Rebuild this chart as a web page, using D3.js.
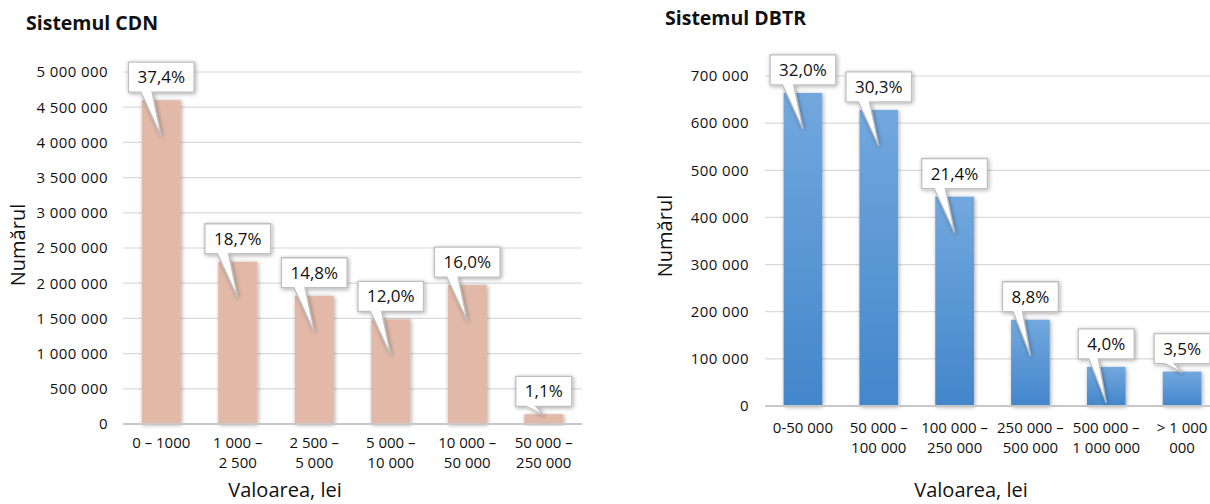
<!DOCTYPE html>
<html>
<head>
<meta charset="utf-8">
<script src="https://cdn.jsdelivr.net/npm/d3@7"></script>
<style>
  body { margin: 0; background: #fff; }
  svg { display: block; font-family: "Open Sans", sans-serif; }
</style>
</head>
<body>
<svg id="chart" width="1210" height="504"></svg>
<script>
// Sistemul CDN
const cdnCategories = [["0 – 1000"], ["1 000 –", "2 500"], ["2 500 –", "5 000"], ["5 000 –", "10 000"], ["10 000 –", "50 000"], ["50 000 –", "250 000"]];
const cdnValues = [4600000, 2305000, 1822000, 1487000, 1974000, 138000];
const cdnShares = ["37,4%", "18,7%", "14,8%", "12,0%", "16,0%", "1,1%"];
const cdnTicks = [0, 500000, 1000000, 1500000, 2000000, 2500000, 3000000, 3500000, 4000000, 4500000, 5000000];

// Sistemul DBTR
const dbtrCategories = [["0-50 000"], ["50 000 –", "100 000"], ["100 000 –", "250 000"], ["250 000 –", "500 000"], ["500 000 –", "1 000 000"], ["> 1 000", "000"]];
const dbtrValues = [664000, 628000, 444000, 183000, 83000, 73000];
const dbtrShares = ["32,0%", "30,3%", "21,4%", "8,8%", "4,0%", "3,5%"];
const dbtrTicks = [0, 100000, 200000, 300000, 400000, 500000, 600000, 700000];

const fmt = d3.formatLocale({ decimal: ",", thousands: " ", grouping: [3], currency: ["", ""] }).format(",");

const svg = d3.select('#chart');
const defs = svg.append('defs');

// soft shadow for bars and callouts
const shadow = defs.append('filter').attr('id', 'shadow')
  .attr('x', '-30%').attr('y', '-10%').attr('width', '160%').attr('height', '130%');
shadow.append('feDropShadow')
  .attr('dx', 1).attr('dy', 1).attr('stdDeviation', 2)
  .attr('flood-color', '#000').attr('flood-opacity', 0.35);

const blueGrad = defs.append('linearGradient').attr('id', 'blueGrad')
  .attr('x1', 0).attr('y1', 0).attr('x2', 0).attr('y2', 1);
blueGrad.append('stop').attr('offset', '0%').attr('stop-color', '#72a8de');
blueGrad.append('stop').attr('offset', '100%').attr('stop-color', '#4386cb');

function drawChart(opt) {
  const g = svg.append('g');

  const x = d3.scaleBand()
    .domain(d3.range(opt.categories.length))
    .range(opt.xRange)
    .paddingInner(0.49)
    .paddingOuter(0.245);

  const y = d3.scaleLinear()
    .domain([0, d3.max(opt.ticks)])
    .range(opt.yRange);

  // gridlines
  g.append('g')
    .selectAll('line')
    .data(opt.ticks.slice(1))
    .enter().append('line')
    .attr('x1', opt.xRange[0])
    .attr('x2', opt.xRange[1])
    .attr('y1', d => y(d))
    .attr('y2', d => y(d))
    .attr('stroke', '#d9d9d9')
    .attr('stroke-width', 1.2);

  // y axis labels
  const yAxis = g.append('g')
    .attr('transform', `translate(${opt.xRange[0]},0)`)
    .call(d3.axisLeft(y).tickValues(opt.ticks).tickFormat(fmt).tickSize(0).tickPadding(opt.tickPad));
  yAxis.select('.domain').remove();
  yAxis.selectAll('text')
    .attr('font-size', 15)
    .attr('letter-spacing', 0.4)
    .attr('font-family', '"Open Sans", sans-serif')
    .attr('fill', '#111');

  // bars
  g.append('g')
    .selectAll('rect')
    .data(opt.values)
    .enter().append('rect')
    .attr('x', (d, i) => x(i))
    .attr('y', d => y(d))
    .attr('width', x.bandwidth())
    .attr('height', d => y(0) - y(d))
    .attr('fill', opt.fill)
    .attr('filter', 'url(#shadow)');

  // baseline
  g.append('line')
    .attr('x1', opt.xRange[0])
    .attr('x2', opt.xRange[1])
    .attr('y1', y(0))
    .attr('y2', y(0))
    .attr('stroke', '#c8c8c8')
    .attr('stroke-width', 2);

  // x tick labels
  const xl = g.append('g')
    .selectAll('text')
    .data(opt.categories)
    .enter().append('text')
    .attr('x', (d, i) => x(i) + x.bandwidth() / 2)
    .attr('y', y(0) + opt.labelDy)
    .attr('text-anchor', 'middle')
    .attr('font-size', 15)
    .attr('fill', '#111');
  xl.selectAll('tspan')
    .data(d => d)
    .enter().append('tspan')
    .attr('x', function () { return this.parentNode.getAttribute('x'); })
    .attr('dy', (d, i) => i === 0 ? 0 : 20)
    .text(d => d);

  // callouts
  const callouts = g.append('g')
    .selectAll('g')
    .data(opt.values)
    .enter().append('g');

  callouts.each(function (d, i) {
    const c = d3.select(this);
    const cx = x(i) + x.bandwidth() / 2;
    const top = y(d);
    const h = y(0) - top;
    const tipY = h >= 37 ? top + 36 : top + 1;
    const bh = 30;
    const bottom = top - 8;
    const label = c.append('text')
      .attr('font-size', 17)
      .attr('text-anchor', 'middle')
      .attr('fill', '#111')
      .text(opt.shares[i]);
    const tw = label.node().getComputedTextLength();
    const bw = tw + 18;
    const left = cx - bw / 2;
    const right = cx + bw / 2;
    const b1 = left + bw * 0.19;
    const b2 = left + bw * 0.36;
    const path = `M${left},${bottom - bh}H${right}V${bottom}H${b2}L${cx},${tipY}L${b1},${bottom}H${left}Z`;
    c.insert('path', 'text')
      .attr('d', path)
      .attr('fill', '#fff')
      .attr('stroke', '#bfbfbf')
      .attr('stroke-width', 1.3)
      .attr('filter', 'url(#shadow)');
    label.attr('x', cx).attr('y', bottom - bh / 2 + 6);
  });

  // titles
  g.append('text')
    .attr('x', opt.titlePos[0])
    .attr('y', opt.titlePos[1])
    .attr('font-size', 19.5)
    .attr('font-weight', 'bold')
    .attr('fill', '#111')
    .text(opt.title);

  g.append('text')
    .attr('transform', `translate(${opt.yTitlePos[0]},${opt.yTitlePos[1]}) rotate(-90)`)
    .attr('text-anchor', 'middle')
    .attr('font-size', 20)
    .attr('fill', '#111')
    .text('Numărul');

  g.append('text')
    .attr('x', opt.xTitlePos[0])
    .attr('y', opt.xTitlePos[1])
    .attr('text-anchor', 'middle')
    .attr('font-size', 20)
    .attr('fill', '#111')
    .text('Valoarea, lei');
}

drawChart({
  title: 'Sistemul CDN',
  categories: cdnCategories,
  values: cdnValues,
  shares: cdnShares,
  ticks: cdnTicks,
  xRange: [123, 582],
  yRange: [424, 72],
  tickPad: 15,
  labelDy: 24,
  fill: '#e2b9a8',
  titlePos: [26, 30],
  yTitlePos: [25, 245],
  xTitlePos: [285, 497]
});

drawChart({
  title: 'Sistemul DBTR',
  categories: dbtrCategories,
  values: dbtrValues,
  shares: dbtrShares,
  ticks: dbtrTicks,
  xRange: [765, 1220],
  yRange: [406, 76],
  tickPad: 16,
  labelDy: 27,
  fill: 'url(#blueGrad)',
  titlePos: [665, 25],
  yTitlePos: [672, 236],
  xTitlePos: [971, 497]
});
</script>
</body>
</html>
